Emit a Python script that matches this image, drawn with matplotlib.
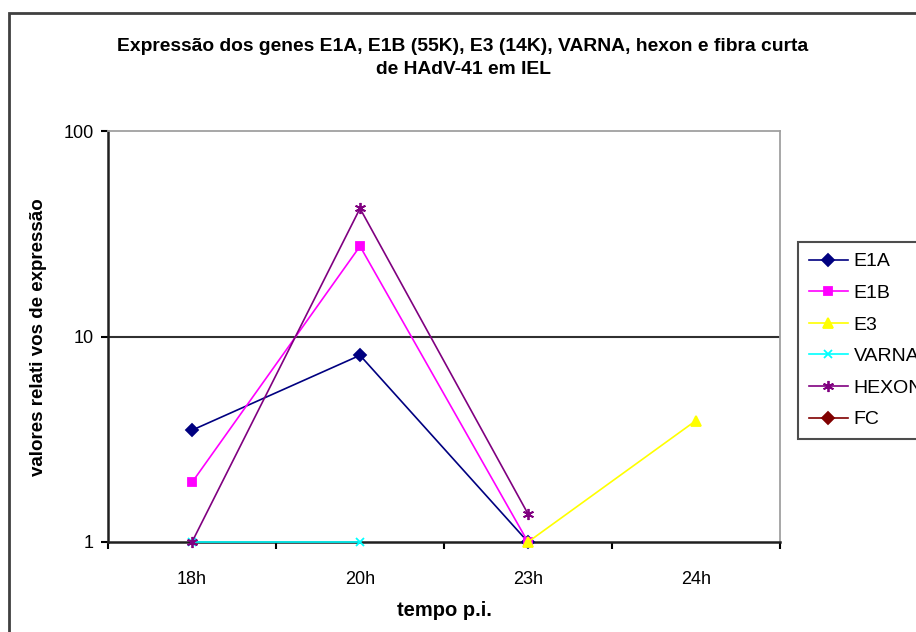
import numpy as np
import matplotlib
matplotlib.use("Agg")
import matplotlib.pyplot as plt
from matplotlib.patches import Rectangle

# dados
tempos = ["18h", "20h", "23h", "24h"]
nan = np.nan
e1a = [3.5, 8.1, 1.0, nan]
e1b = [1.95, 27.5, 1.0, nan]
e3 = [nan, nan, 1.0, 3.9]
varna = [1.0, 1.0, nan, nan]
hexon = [1.0, 42.0, 1.37, nan]
fc = [nan, nan, nan, nan]

series = [
    ("E1A", e1a, "#000080", "D", 6),
    ("E1B", e1b, "#FF00FF", "s", 6),
    ("E3", e3, "#FFFF00", "^", 7),
    ("VARNA", varna, "#00FFFF", "x", 6),
    ("HEXON", hexon, "#800080", (6, 2, 0), 8),
    ("FC", fc, "#800000", "D", 6),
]

plt.rcParams["font.family"] = ["Liberation Sans", "DejaVu Sans"]

W, H = 916, 632
fig = plt.figure(figsize=(W / 100, H / 100), dpi=100)

# moldura da área do gráfico (cortada à direita e em baixo)
fig.patches.append(Rectangle((9 / W, -0.1), 1.2, (H - 13) / H + 0.1,
                             transform=fig.transFigure, fill=False,
                             edgecolor="#404040", lw=2))

ax = fig.add_axes([108 / W, (H - 542) / H, 672 / W, 411 / H])
x = np.arange(len(tempos))

for nome, vals, cor, mk, ms in series:
    ax.plot(x, vals, color=cor, marker=mk, markersize=ms, lw=1.2,
            markeredgewidth=1.3, label=nome, zorder=3, clip_on=False)

ax.set_yscale("log")
ax.set_ylim(1, 100)
ax.set_xlim(-0.5, 3.5)
ax.set_yticks([1, 10, 100])
ax.set_yticklabels(["1", "10", "100"], fontsize=13)
ax.yaxis.set_minor_locator(matplotlib.ticker.NullLocator())
ax.axhline(10, color="#303030", lw=1.5, zorder=1)

ax.set_xticks(np.arange(-0.5, 4, 1))
ax.set_xticklabels([])
ax.set_xticks(x, minor=True)
ax.set_xticklabels(tempos, minor=True, fontsize=13)
ax.tick_params(axis="x", which="minor", length=0, pad=21)
ax.tick_params(axis="x", which="major", length=5, width=1.5, direction="out")
ax.tick_params(axis="y", length=5, width=1.5, direction="out", pad=5)

for s in ["left", "bottom"]:
    ax.spines[s].set_linewidth(1.8)
    ax.spines[s].set_color("#202020")
for s in ["top", "right"]:
    ax.spines[s].set_linewidth(1.3)
    ax.spines[s].set_color("#a0a0a0")

ax.set_xlabel("tempo p.i.", fontsize=14.5, fontweight="bold", labelpad=9)
fig.text(39 / W, 1 - 337 / H, "valores relati vos de expressão",
         rotation=90, ha="center", va="center", fontsize=13.5,
         fontweight="bold")

fig.text(463 / W, 1 - 58 / H,
         "Expressão dos genes E1A, E1B (55K), E3 (14K), VARNA, hexon e fibra curta\nde HAdV-41 em IEL",
         ha="center", va="center", fontsize=13.9, fontweight="bold",
         linespacing=1.5)

# a legenda fica cortada na borda direita, como no original
leg = ax.legend(loc="upper left", bbox_to_anchor=(798 / W, 1 - 242 / H),
                bbox_transform=fig.transFigure, frameon=True, fancybox=False,
                edgecolor="#202020", fontsize=14, handlelength=2.0,
                labelspacing=0.72, borderpad=0.55, handletextpad=0.3,
                borderaxespad=0)
leg.get_frame().set_linewidth(1.5)

fig.savefig("out.png", dpi=100)
